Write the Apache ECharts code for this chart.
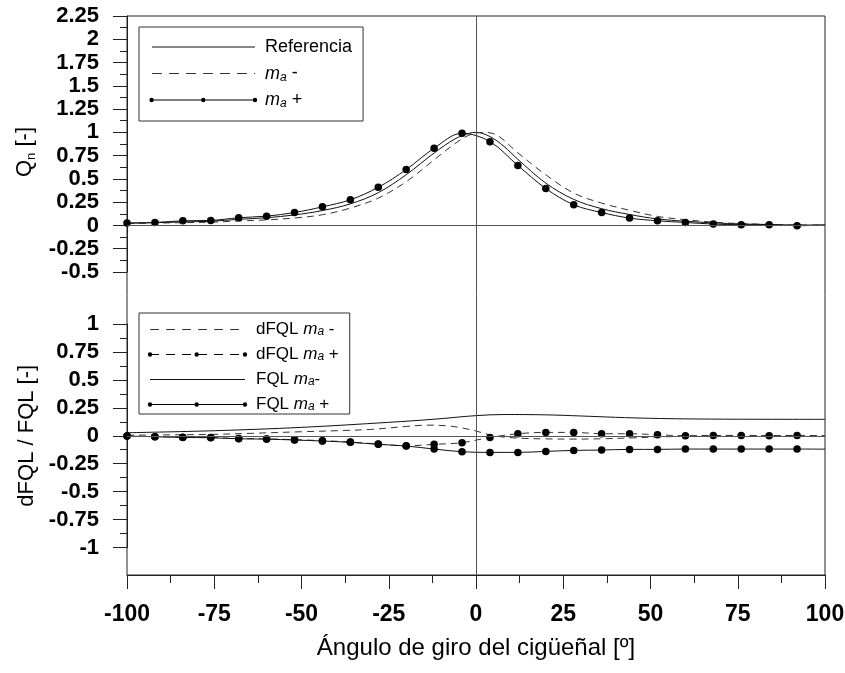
<!DOCTYPE html>
<html>
<head>
<meta charset="utf-8">
<script src="https://cdn.jsdelivr.net/npm/echarts@6/dist/echarts.min.js"></script>
<style>html,body{margin:0;padding:0;background:#fff}#c{width:845px;height:673px}</style>
</head>
<body>
<div id="c"></div>
<script>
// ---------------- DATA ----------------
const xTicks = [-100, -75, -50, -25, 0, 25, 50, 75, 100];
const qTicks = [2.25, 2, 1.75, 1.5, 1.25, 1, 0.75, 0.5, 0.25, 0, -0.25, -0.5];
const fqlTicks = [1, 0.75, 0.5, 0.25, 0, -0.25, -0.5, -0.75, -1];

// marker positions (every 8 degrees) + end point
const markAngles = [-100,-92,-84,-76,-68,-60,-52,-44,-36,-28,-20,-12,-4,4,12,20,28,36,44,52,60,68,76,84,92,100];

// Upper panel: Qn
const refAngles = [-100,-92,-84,-76,-68,-60,-52,-44,-36,-28,-20,-12,-6,-2,0,4,8,12,20,28,36,44,52,60,68,76,84,92,100];
const qReferencia = [0.025,0.03,0.038,0.045,0.066,0.083,0.113,0.16,0.232,0.352,0.545,0.778,0.93,0.99,1.0,0.955,0.85,0.71,0.455,0.28,0.18,0.118,0.07,0.045,0.028,0.016,0.01,0.004,0.005];

const maMinusAngles = [-100,-92,-84,-76,-68,-60,-52,-44,-36,-28,-20,-12,-6,-2,2,6,12,20,28,36,44,52,60,68,76,84,92,100];
const qMaMinus = [0.02,0.025,0.03,0.035,0.048,0.06,0.08,0.115,0.187,0.294,0.47,0.705,0.88,0.97,1.0,0.97,0.78,0.544,0.348,0.24,0.163,0.097,0.062,0.035,0.02,0.012,0.006,0.005];

const qMaPlus = [0.026,0.032,0.05,0.054,0.083,0.1,0.139,0.2,0.276,0.41,0.6,0.83,0.99,0.9,0.644,0.397,0.222,0.139,0.079,0.05,0.032,0.015,0.008,0.008,-0.003,0.005];

// Lower panel: dFQL / FQL
const fqlMinusAngles = [-100,-75,-50,-25,-12,0,8,20,30,40,50,60,75,100];
const fqlMaMinus = [0.027,0.045,0.075,0.12,0.148,0.18,0.19,0.187,0.177,0.165,0.156,0.151,0.148,0.147];

const dfqlMinusAngles = [-100,-88,-76,-64,-50,-40,-30,-20,-14,-8,-4,0,4,8,14,20,28,36,44,52,60,70,85,100];
const dfqlMaMinus = [0.005,0.008,0.012,0.022,0.036,0.045,0.057,0.083,0.095,0.088,0.07,0.042,0.008,-0.012,-0.024,-0.028,-0.03,-0.027,-0.02,-0.011,-0.005,0,0,0];

const fqlMaPlus = [-0.003,-0.009,-0.015,-0.018,-0.027,-0.03,-0.038,-0.047,-0.059,-0.077,-0.092,-0.119,-0.143,-0.149,-0.149,-0.14,-0.131,-0.128,-0.122,-0.122,-0.119,-0.119,-0.119,-0.119,-0.119,-0.12];
const dfqlMaPlus = [-0.002,-0.008,-0.013,-0.016,-0.025,-0.028,-0.035,-0.044,-0.056,-0.074,-0.09,-0.077,-0.062,-0.015,0.018,0.03,0.03,0.018,0.018,0.009,0,0.003,0.003,0,0.003,0];

const seriesNames = ['Referencia','ma-','ma+','dFQL ma-','dFQL ma+','FQL ma-','FQL ma+'];

// ---------------- STYLE HELPERS ----------------
const FONT = '"Liberation Sans", Arial, Helvetica, sans-serif';
const AX = '#222';

function pairs(xs, ys){ return xs.map((x,i)=>[x, ys[i]]); }
function markedPairs(xs, ys){
  return xs.map((x,i)=> i === xs.length-1 ? {value:[x, ys[i]], symbol:'none'} : [x, ys[i]]);
}

function iconPath(w, h, x0, x1, opt){
  const y = h/2, t = 0.6;
  let p = 'M0 0 M' + w + ' ' + h + ' ';
  if (opt.dash){
    for (let x = x0; x < x1; x += opt.dash[0] + opt.dash[1]){
      const xe = Math.min(x + opt.dash[0], x1);
      p += 'M'+x+' '+(y-t)+'L'+xe+' '+(y-t)+'L'+xe+' '+(y+t)+'L'+x+' '+(y+t)+'Z ';
    }
  } else {
    p += 'M'+x0+' '+(y-t)+'L'+x1+' '+(y-t)+'L'+x1+' '+(y+t)+'L'+x0+' '+(y+t)+'Z ';
  }
  (opt.dots||[]).forEach(cx=>{
    const r = opt.r;
    p += 'M'+(cx-r)+' '+y+'A'+r+' '+r+' 0 1 1 '+(cx+r)+' '+y+'A'+r+' '+r+' 0 1 1 '+(cx-r)+' '+y+'Z ';
  });
  return 'path://' + p;
}

const legendText = {
  'Referencia': 'Referencia',
  'ma-': '{i|m}{s|a} -',
  'ma+': '{i|m}{s|a} +',
  'dFQL ma-': 'dFQL {i|m}{s|a} -',
  'dFQL ma+': 'dFQL {i|m}{s|a} +',
  'FQL ma-': 'FQL {i|m}{s|a}-',
  'FQL ma+': 'FQL {i|m}{s|a} +'
};

function yAxisCommon(){
  return {
    type:'value',
    axisLine:{show:true, onZero:false, lineStyle:{color:AX, width:1}},
    axisTick:{show:true, inside:false, length:14, lineStyle:{color:AX}},
    minorTick:{show:true, splitNumber:2, length:7, lineStyle:{color:AX}},
    splitLine:{show:false},
    axisLabel:{margin:28, fontSize:22, fontWeight:'bold', color:'#000', fontFamily:FONT, showMinLabel:true, showMaxLabel:true},
    nameLocation:'middle',
    nameRotate:90
  };
}

const zeroLine = {symbol:['none','none'], silent:true, label:{show:false}, lineStyle:{color:'#555', width:1, type:'solid'}};

const option = {
  animation:false,
  backgroundColor:'#fff',
  grid:[
    {left:127, right:20, top:16, bottom:98, show:true, borderColor:AX, borderWidth:1, backgroundColor:'transparent', outerBoundsMode:'none'},
    {left:127, right:20, top:16, height:256, outerBoundsMode:'none'},
    {left:127, right:20, top:324, height:223.5, outerBoundsMode:'none'}
  ],
  xAxis:[
    {gridIndex:0, type:'value', min:xTicks[0], max:xTicks[xTicks.length-1], interval:25, position:'bottom',
     axisLine:{show:true, onZero:false, lineStyle:{color:AX}},
     axisTick:{show:true, length:14, lineStyle:{color:AX}},
     minorTick:{show:true, splitNumber:2, length:8, lineStyle:{color:AX}},
     splitLine:{show:false},
     axisLabel:{margin:28, fontSize:23, fontWeight:'bold', color:'#000', fontFamily:FONT, showMinLabel:true, showMaxLabel:true},
     name:'Ángulo de giro del cigüeñal [º]', nameLocation:'middle', nameGap:61,
     nameTextStyle:{fontSize:24, color:'#000', fontFamily:FONT}},
    {gridIndex:1, type:'value', min:-100, max:100, show:false},
    {gridIndex:2, type:'value', min:-100, max:100, show:false}
  ],
  yAxis:[
    {gridIndex:0, type:'value', min:0, max:1, show:false},
    Object.assign(yAxisCommon(), {gridIndex:1, min:qTicks[qTicks.length-1], max:qTicks[0], interval:0.25,
      name:'{q|Q}{n|n}{q| [-]}', nameGap:88,
      nameTextStyle:{fontSize:22, color:'#000', fontFamily:FONT, padding:[0,16,0,0],
        rich:{q:{fontSize:22, lineHeight:26, fontFamily:FONT, color:'#000'}, n:{fontSize:13, lineHeight:16, verticalAlign:'bottom', fontFamily:FONT, color:'#000'}}}}),
    Object.assign(yAxisCommon(), {gridIndex:2, min:fqlTicks[fqlTicks.length-1], max:fqlTicks[0], interval:0.25,
      name:'dFQL / FQL [-]', nameGap:88,
      nameTextStyle:{fontSize:22, color:'#000', fontFamily:FONT}})
  ],
  legend:[
    {orient:'vertical', left:139, top:27, itemWidth:111, itemHeight:8, itemGap:6.5,
     padding:[10,11,11,10], borderColor:'#333', borderWidth:1, backgroundColor:'#fff', selectedMode:false,
     itemStyle:{borderWidth:0},
     textStyle:{fontSize:18, lineHeight:20, color:'#000', fontFamily:FONT, rich:{
       i:{fontStyle:'italic', fontSize:18, lineHeight:20, fontFamily:FONT, color:'#000'},
       s:{fontStyle:'italic', fontSize:12, lineHeight:15, verticalAlign:'bottom', fontFamily:FONT, color:'#000'}}},
     formatter:n=>legendText[n],
     data:[
       {name:'Referencia', icon:iconPath(111,8,3,106,{})},
       {name:'ma-', icon:iconPath(111,8,3,106,{dash:[10,7]})},
       {name:'ma+', icon:iconPath(111,8,2.6,106,{dots:[2.6,54.3,106], r:2.2})}
     ]},
    {orient:'vertical', left:139, top:313, itemWidth:104, itemHeight:8, itemGap:8,
     padding:[8,11,1,8], borderColor:'#333', borderWidth:1, backgroundColor:'#fff', selectedMode:false,
     itemStyle:{borderWidth:0},
     textStyle:{fontSize:17, lineHeight:16, color:'#000', fontFamily:FONT, rich:{
       i:{fontStyle:'italic', fontSize:17, lineHeight:16, fontFamily:FONT, color:'#000'},
       s:{fontStyle:'italic', fontSize:12, lineHeight:12, verticalAlign:'bottom', fontFamily:FONT, color:'#000'}}},
     formatter:n=>legendText[n],
     data:[
       {name:'dFQL ma-', icon:iconPath(104,8,3,98,{dash:[9,7]})},
       {name:'dFQL ma+', icon:iconPath(104,8,3,98,{dash:[9,7], dots:[3,49.7,98], r:2.2})},
       {name:'FQL ma-', icon:iconPath(104,8,3,98,{})},
       {name:'FQL ma+', icon:iconPath(104,8,3,98,{dots:[3,49.7,98], r:2.2})}
     ]}
  ],
  series:[
    {name:'Referencia', type:'line', xAxisIndex:1, yAxisIndex:1, data:pairs(refAngles, qReferencia),
     smooth:0.35, symbol:'none', lineStyle:{color:'#111', width:1}, itemStyle:{color:'#111'},
     markLine:Object.assign({data:[{yAxis:0}]}, zeroLine), z:3},
    {name:'ma-', type:'line', xAxisIndex:1, yAxisIndex:1, data:pairs(maMinusAngles, qMaMinus),
     smooth:0.35, symbol:'none', lineStyle:{color:'#333', width:1, type:[7,5]}, itemStyle:{color:'#333'}, z:3},
    {name:'ma+', type:'line', xAxisIndex:1, yAxisIndex:1, data:markedPairs(markAngles, qMaPlus),
     smooth:0.35, symbol:'circle', symbolSize:7.5, showSymbol:true, showAllSymbol:true,
     lineStyle:{color:'#111', width:1}, itemStyle:{color:'#000', borderWidth:0}, z:4},

    {name:'dFQL ma-', type:'line', xAxisIndex:2, yAxisIndex:2, data:pairs(dfqlMinusAngles, dfqlMaMinus),
     smooth:0.35, symbol:'none', lineStyle:{color:'#333', width:1, type:[7,5]}, itemStyle:{color:'#333'},
     markLine:Object.assign({data:[{yAxis:0}]}, zeroLine), z:3},
    {name:'dFQL ma+', type:'line', xAxisIndex:2, yAxisIndex:2, data:markedPairs(markAngles, dfqlMaPlus),
     smooth:0.35, symbol:'circle', symbolSize:7.5, showSymbol:true, showAllSymbol:true,
     lineStyle:{color:'#333', width:1, type:[7,5]}, itemStyle:{color:'#000', borderWidth:0}, z:4},
    {name:'FQL ma-', type:'line', xAxisIndex:2, yAxisIndex:2, data:pairs(fqlMinusAngles, fqlMaMinus),
     smooth:0.35, symbol:'none', lineStyle:{color:'#111', width:1}, itemStyle:{color:'#111'}, z:3},
    {name:'FQL ma+', type:'line', xAxisIndex:2, yAxisIndex:2, data:markedPairs(markAngles, fqlMaPlus),
     smooth:0.35, symbol:'circle', symbolSize:7.5, showSymbol:true, showAllSymbol:true,
     lineStyle:{color:'#111', width:1}, itemStyle:{color:'#000', borderWidth:0}, z:4},

    {name:'__zero', type:'line', xAxisIndex:0, yAxisIndex:0, data:[], silent:true,
     markLine:Object.assign({data:[{xAxis:0}]}, zeroLine)}
  ]
};

const chart = echarts.init(document.getElementById('c'), null, {renderer:'canvas'});
chart.setOption(option);
</script>
</body>
</html>
